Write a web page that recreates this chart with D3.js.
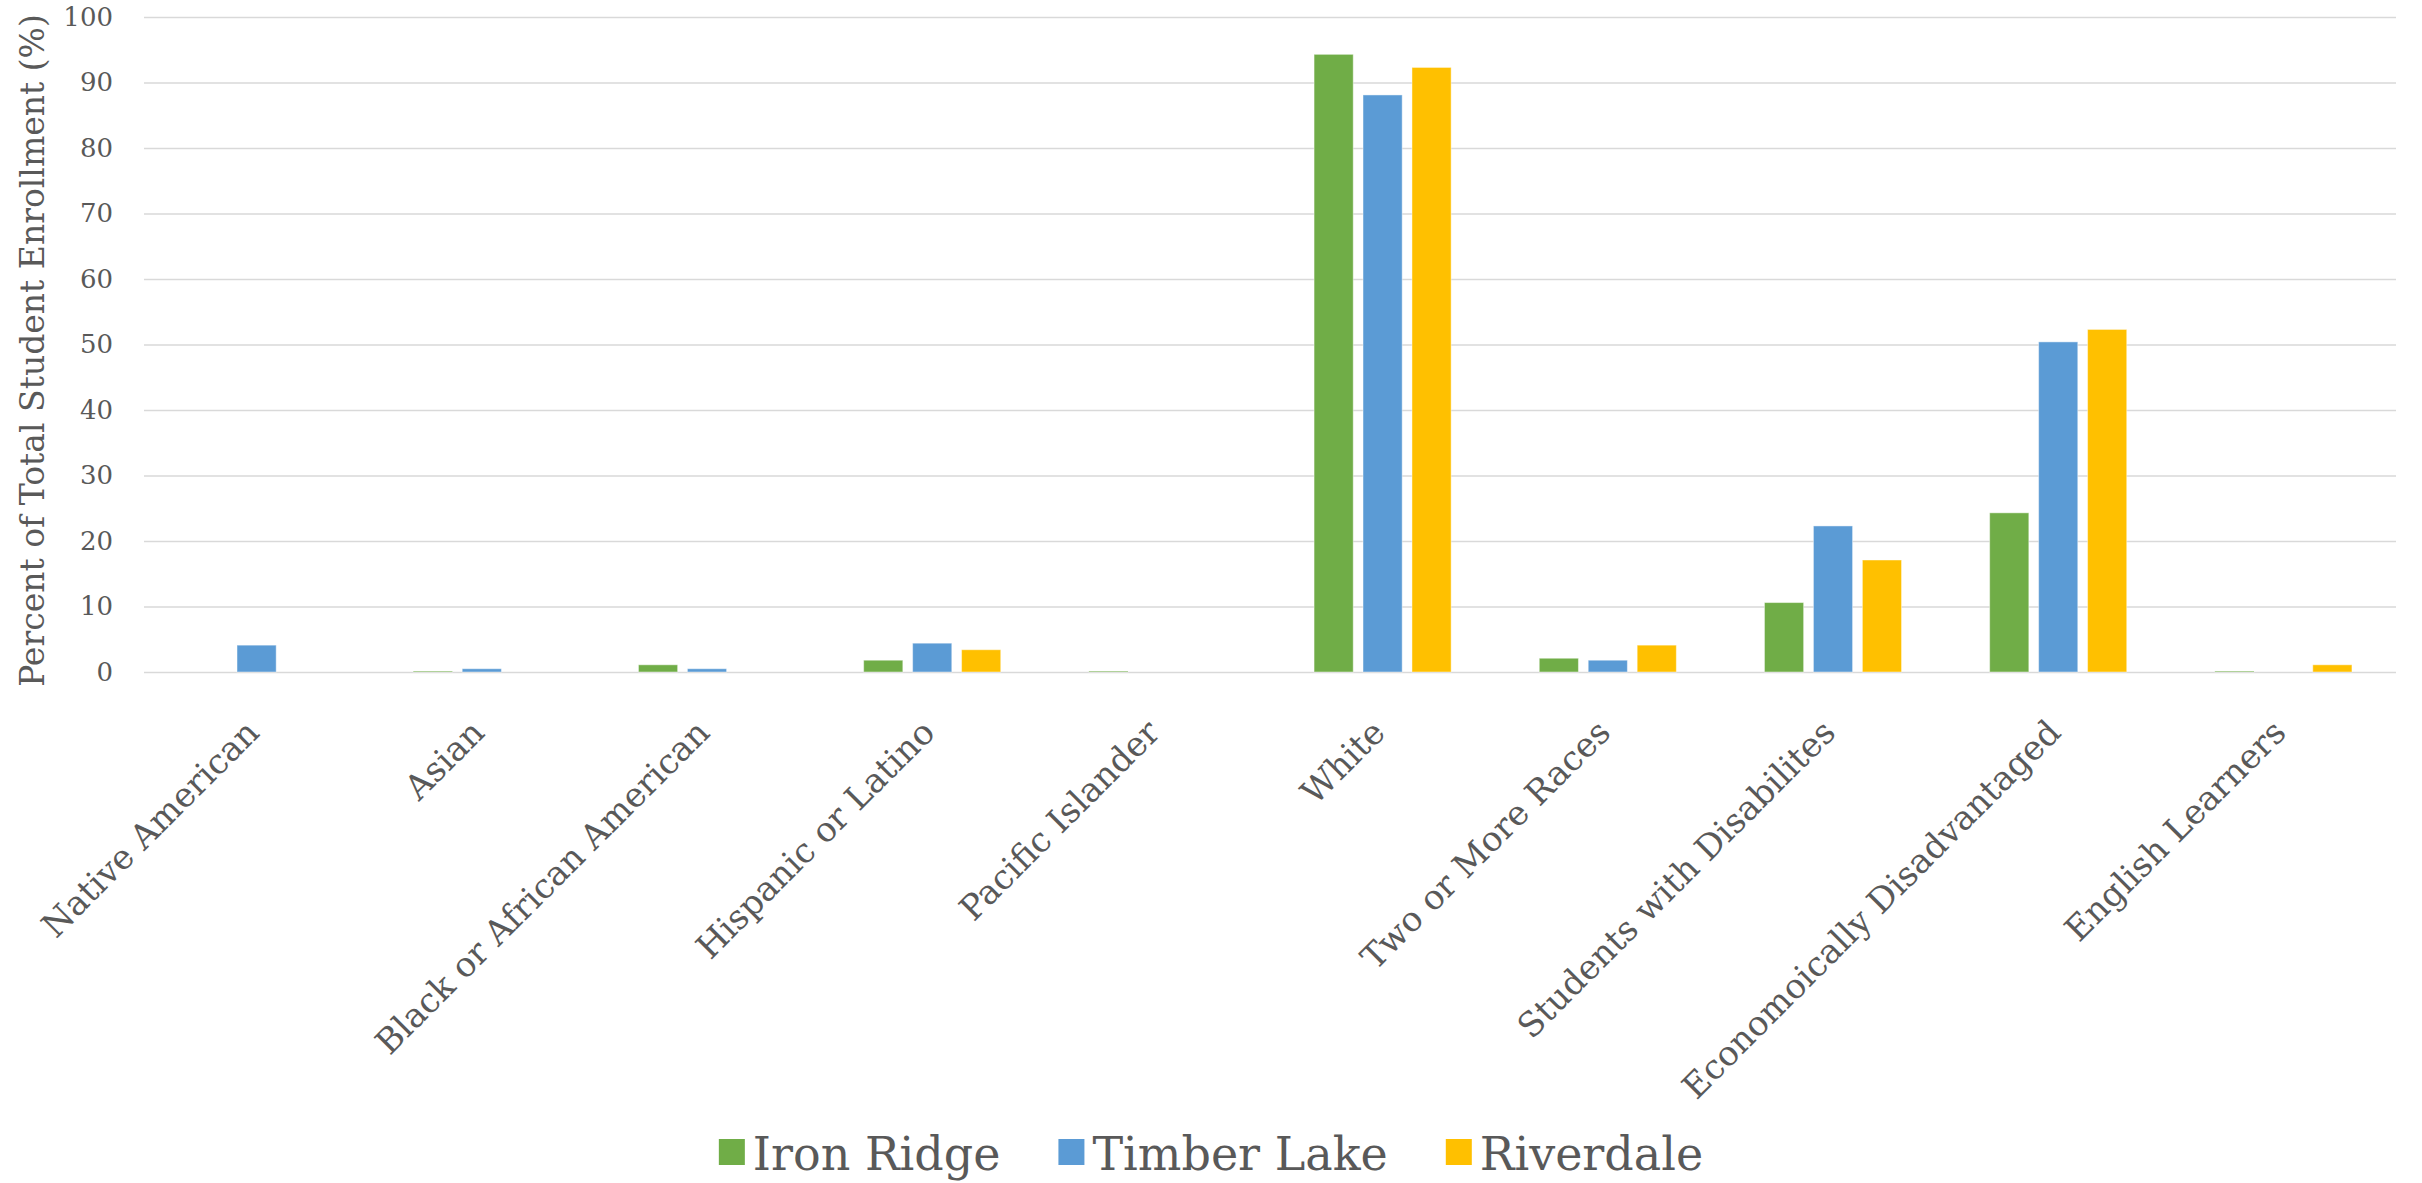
<!DOCTYPE html>
<html>
<head>
<meta charset="utf-8">
<script src="https://cdn.jsdelivr.net/npm/d3@7"></script>
<style>
  body { margin: 0; background: #fff; }
  text { font-family: "DejaVu Serif", serif; fill: #595959; }
</style>
</head>
<body>
<div id="chart-area"></div>
<script>
// categorias e valores (%)
var categorias = ["Native American", "Asian", "Black or African American", "Hispanic or Latino",
    "Pacific Islander", "White", "Two or More Races", "Students with Disabilites",
    "Economoically Disadvantaged", "English Learners"];
var escolas = ["Iron Ridge", "Timber Lake", "Riverdale"];
var ironRidge  = [0, 0.15, 1.1, 1.8, 0.15, 94.3, 2.1, 10.6, 24.3, 0.15];
var timberLake = [4.1, 0.5, 0.5, 4.4, 0, 88.1, 1.8, 22.3, 50.4, 0];
var riverdale  = [0, 0, 0, 3.4, 0, 92.3, 4.1, 17.1, 52.3, 1.1];
var yTicks = [0, 10, 20, 30, 40, 50, 60, 70, 80, 90, 100];
var cores = ["#70AD47", "#5B9BD5", "#FFC000"];

var W = 2422, H = 1183;
var plot = { left: 144, right: 2396, top: 17, bottom: 672 };

var svg = d3.select("#chart-area")
    .append("svg")
        .attr("width", W)
        .attr("height", H);

var series = [ironRidge, timberLake, riverdale];
var dados = categorias.map(function(c, i) {
    return { categoria: c, valores: escolas.map(function(e, j) { return { escola: e, valor: series[j][i] }; }) };
});

// Escalas
var x0 = d3.scaleBand()
    .domain(categorias)
    .range([plot.left, plot.right]);

var x1 = d3.scaleBand()
    .domain(escolas)
    .range([0, x0.bandwidth()])
    .paddingInner(0.2)
    .paddingOuter(0.9);

var y = d3.scaleLinear()
    .domain([0, 100])
    .range([plot.bottom, plot.top]);

var cor = d3.scaleOrdinal().domain(escolas).range(cores);

// Grade + eixo Y
var yAxisCall = d3.axisLeft(y)
    .tickValues(yTicks)
    .tickSize(-(plot.right - plot.left))
    .tickPadding(31)
    .tickFormat(function(d) { return d; });

var yAxisGroup = svg.append("g")
    .attr("class", "y-axis")
    .attr("transform", "translate(" + plot.left + ",0)")
    .call(yAxisCall);
yAxisGroup.select(".domain").remove();
yAxisGroup.selectAll(".tick line")
    .attr("stroke", "#D9D9D9")
    .attr("stroke-width", 1.6);
yAxisGroup.selectAll(".tick text")
    .attr("font-size", "26px")
    .attr("font-family", "DejaVu Serif")
    .attr("fill", "#595959");

// Barras
var grupos = svg.selectAll(".grupo")
    .data(dados)
    .enter().append("g")
        .attr("class", "grupo")
        .attr("transform", function(d) { return "translate(" + x0(d.categoria) + ",0)"; });

grupos.selectAll("rect")
    .data(function(d) { return d.valores; })
    .enter().append("rect")
        .attr("x", function(d) { return x1(d.escola); })
        .attr("y", function(d) { return y(d.valor); })
        .attr("width", x1.bandwidth())
        .attr("height", function(d) { return y(0) - y(d.valor); })
        .attr("fill", function(d) { return cor(d.escola); })
        .attr("stroke", "#ffffff")
        .attr("stroke-opacity", 0.45)
        .attr("stroke-width", 1);

// Rotulos do eixo X
svg.selectAll(".x-label")
    .data(categorias)
    .enter().append("text")
        .attr("class", "x-label")
        .attr("text-anchor", "end")
        .attr("font-size", "34px")
        .attr("dy", "0.35em")
        .attr("transform", function(d) {
            var cx = x0(d) + x0.bandwidth() / 2 - 4;
            return "translate(" + cx + "," + (plot.bottom + 54) + ") rotate(-45)";
        })
        .text(function(d) { return d; });

// Titulo do eixo Y
svg.append("text")
    .attr("class", "y-axis-label")
    .attr("text-anchor", "middle")
    .attr("font-size", "33px")
    .attr("dy", "0.35em")
    .attr("transform", "translate(32," + ((plot.top + plot.bottom) / 2 + 6) + ") rotate(-90)")
    .text("Percent of Total Student Enrollment (%)");

// Legenda
var legenda = svg.append("g").attr("class", "legenda");
var itens = legenda.selectAll(".item")
    .data(escolas)
    .enter().append("g")
        .attr("class", "item");

itens.append("rect")
    .attr("width", 26)
    .attr("height", 26)
    .attr("y", -31)
    .attr("fill", function(d) { return cor(d); });

itens.append("text")
    .attr("x", 34)
    .attr("font-size", "46px")
    .text(function(d) { return d; });

var pos = 0;
itens.each(function() {
    var g = d3.select(this);
    var w = 34 + g.select("text").node().getComputedTextLength();
    g.attr("transform", "translate(" + pos + ",0)");
    pos += w + 58;
});
var totalLeg = pos - 58;
legenda.attr("transform", "translate(" + (W / 2 - totalLeg / 2) + ",1170)");
</script>
</body>
</html>
